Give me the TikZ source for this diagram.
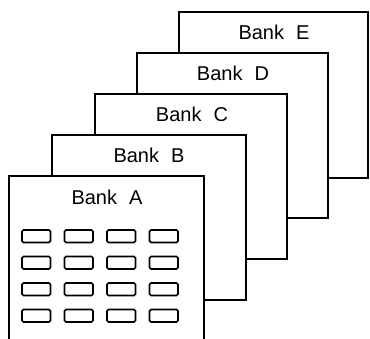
\documentclass[tikz,border=0pt]{standalone}
\usepackage{fontspec}
\setmainfont{Liberation Sans}
\begin{document}
\begin{tikzpicture}[x=1pt,y=-1pt,
  bankbox/.style={draw=black,fill=white,line width=1.8pt},
  banklabel/.style={font=\fontsize{20}{24}\selectfont,inner sep=0pt,anchor=base},
  cell/.style={draw=black,line width=1.6pt,rounded corners=1.5pt}]
\useasboundingbox (0,0) rectangle (370,338);
% Bank E
\draw[bankbox] (179,12) rectangle (368,178);
\node[banklabel] (lE) at (274,39) {Bank\hspace{0.6em}E};
% Bank D
\draw[bankbox] (137,53) rectangle (328,218);
\node[banklabel] (lD) at (233,80) {Bank\hspace{0.6em}D};
% Bank C
\draw[bankbox] (95,94) rectangle (287,259);
\node[banklabel] (lC) at (192,121) {Bank\hspace{0.6em}C};
% Bank B
\draw[bankbox] (52,135) rectangle (246,300);
\node[banklabel] (lB) at (149,162) {Bank\hspace{0.6em}B};
% Bank A (runs off the bottom)
\fill[white] (9,176) rectangle (204,340);
\draw[bankbox,fill=none] (9,340) -- (9,176) -- (204,176) -- (204,340);
\node[banklabel] (lA) at (107,204) {Bank\hspace{0.6em}A};
% cells
\foreach \cx in {22,64.5,107,149.5}{
  \foreach \cy in {230,256.5,283,309.5}{
    \draw[cell] (\cx,\cy) rectangle ++(28.5,12.5);
  }
}
\end{tikzpicture}
\end{document}
